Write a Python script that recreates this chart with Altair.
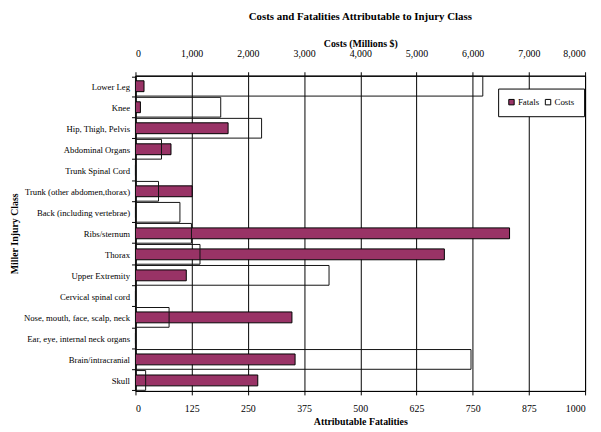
import altair as alt
import pandas as pd

categories = [
    "Lower Leg", "Knee", "Hip, Thigh, Pelvis", "Abdominal Organs", "Trunk Spinal Cord",
    "Trunk (other abdomen,thorax)", "Back (including vertebrae)", "Ribs/sternum", "Thorax",
    "Upper Extremity", "Cervical spinal cord", "Nose, mouth, face, scalp, neck",
    "Ear, eye, internal neck organs", "Brain/intracranial", "Skull",
]
fatals = [19, 11, 206, 79, 0, 126, 0, 832, 687, 113, 0, 348, 0, 355, 272]
costs = [6180, 1517, 2244, 463, 0, 410, 791, 996, 1148, 3444, 0, 598, 0, 5970, 181]

fatal_ticks = [0, 125, 250, 375, 500, 625, 750, 875, 1000]
cost_ticks = [0, 1000, 2000, 3000, 4000, 5000, 6000, 7000, 8000]

df_f = pd.DataFrame({"cls": categories, "value": fatals, "series": "Fatals"})
df_c = pd.DataFrame({"cls": categories, "value": costs, "series": "Costs"})

FONT = "Liberation Serif"

y_enc = alt.Y(
    "cls:N", sort=categories,
    scale=alt.Scale(paddingInner=0.06, paddingOuter=0.03),
    axis=alt.Axis(title="Miller Injury Class", tickBand="extent", tickSize=4,
                  labelPadding=2, titlePadding=4, domainColor="black", tickColor="black",
                  labelFontSize=8.8, labelColor="black"),
)

fat = alt.Chart(df_f).mark_bar(size=11, stroke="black", strokeWidth=1).encode(
    x=alt.X("value:Q", scale=alt.Scale(domain=[0, 1000], nice=False),
            axis=alt.Axis(title="Attributable Fatalities", orient="bottom", values=fatal_ticks,
                          format="d", grid=True, gridColor="black", gridOpacity=1, gridWidth=1,
                          tickSize=4, labelPadding=9, titlePadding=3,
                          domainColor="black", tickColor="black", labelColor="black")),
    y=y_enc,
    color=alt.Color("series:N",
                    scale=alt.Scale(domain=["Fatals", "Costs"], range=["#993366", "white"]),
                    legend=alt.Legend(title=None, orient="none", legendX=367, legendY=13,
                                      direction="horizontal", strokeColor="black",
                                      fillColor="white", padding=9, symbolType="square",
                                      symbolSize=30, symbolStrokeColor="black",
                                      symbolStrokeWidth=1, labelFont=FONT, labelFontSize=9,
                                      labelOffset=2, columnPadding=3, labelColor="black")),
)

cst = alt.Chart(df_c).mark_bar(fillOpacity=0, stroke="#111", strokeWidth=1).encode(
    x=alt.X("value:Q", scale=alt.Scale(domain=[0, 8000], nice=False),
            axis=alt.Axis(title="Costs (Millions $)", orient="top", values=cost_ticks,
                          format=",d", grid=False, tickSize=4, labelPadding=13, titlePadding=1,
                          domainColor="black", tickColor="black", labelColor="black")),
    y=y_enc,
)

chart = alt.layer(fat, cst).resolve_scale(x="independent").properties(
    width=455, height=319,
    autosize=alt.AutoSizeParams(type="none"),
    padding={"left": 129, "top": 66, "right": 8, "bottom": 36},
    title=alt.Title("Costs and Fatalities Attributable to Injury Class",
                    font=FONT, fontSize=11, fontWeight="bold", offset=16, color="black"),
).configure_axis(
    labelFont=FONT, titleFont=FONT, labelFontSize=10, titleFontSize=10,
    titleFontWeight="bold", titleColor="black",
).configure_view(stroke="black", strokeWidth=1)

chart.save("out.html", embed_options={"renderer": "svg", "actions": False})
